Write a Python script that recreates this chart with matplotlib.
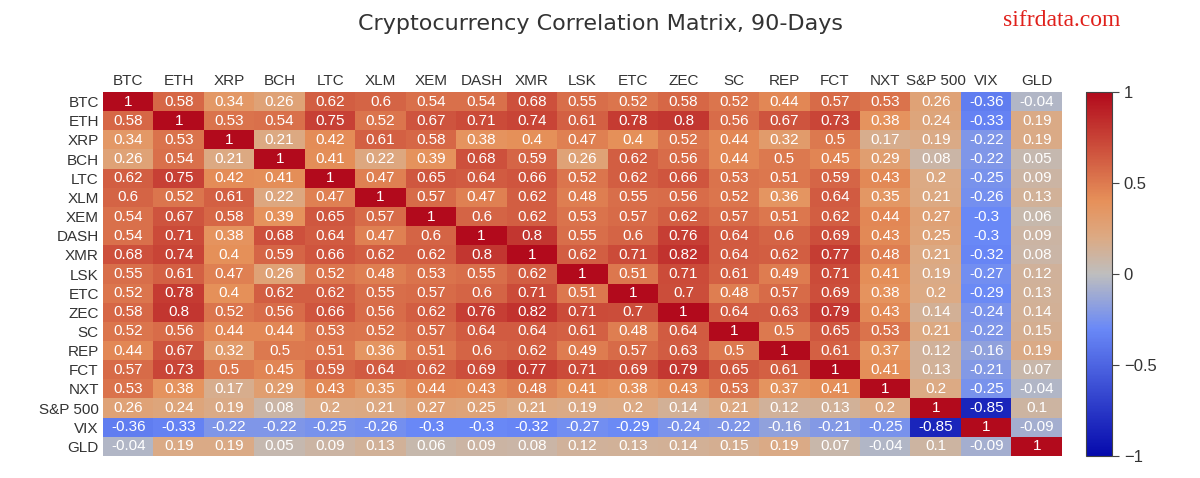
import numpy as np
import matplotlib
matplotlib.use('Agg')
import matplotlib.pyplot as plt
from matplotlib.colors import LinearSegmentedColormap

plt.rcParams['font.family'] = ['Liberation Sans', 'DejaVu Sans']

labels = ['BTC', 'ETH', 'XRP', 'BCH', 'LTC', 'XLM', 'XEM', 'DASH', 'XMR', 'LSK',
          'ETC', 'ZEC', 'SC', 'REP', 'FCT', 'NXT', 'S&P 500', 'VIX', 'GLD']

corr = np.array([
    [1, .58, .34, .26, .62, .6, .54, .54, .68, .55, .52, .58, .52, .44, .57, .53, .26, -.36, -.04],
    [.58, 1, .53, .54, .75, .52, .67, .71, .74, .61, .78, .8, .56, .67, .73, .38, .24, -.33, .19],
    [.34, .53, 1, .21, .42, .61, .58, .38, .4, .47, .4, .52, .44, .32, .5, .17, .19, -.22, .19],
    [.26, .54, .21, 1, .41, .22, .39, .68, .59, .26, .62, .56, .44, .5, .45, .29, .08, -.22, .05],
    [.62, .75, .42, .41, 1, .47, .65, .64, .66, .52, .62, .66, .53, .51, .59, .43, .2, -.25, .09],
    [.6, .52, .61, .22, .47, 1, .57, .47, .62, .48, .55, .56, .52, .36, .64, .35, .21, -.26, .13],
    [.54, .67, .58, .39, .65, .57, 1, .6, .62, .53, .57, .62, .57, .51, .62, .44, .27, -.3, .06],
    [.54, .71, .38, .68, .64, .47, .6, 1, .8, .55, .6, .76, .64, .6, .69, .43, .25, -.3, .09],
    [.68, .74, .4, .59, .66, .62, .62, .8, 1, .62, .71, .82, .64, .62, .77, .48, .21, -.32, .08],
    [.55, .61, .47, .26, .52, .48, .53, .55, .62, 1, .51, .71, .61, .49, .71, .41, .19, -.27, .12],
    [.52, .78, .4, .62, .62, .55, .57, .6, .71, .51, 1, .7, .48, .57, .69, .38, .2, -.29, .13],
    [.58, .8, .52, .56, .66, .56, .62, .76, .82, .71, .7, 1, .64, .63, .79, .43, .14, -.24, .14],
    [.52, .56, .44, .44, .53, .52, .57, .64, .64, .61, .48, .64, 1, .5, .65, .53, .21, -.22, .15],
    [.44, .67, .32, .5, .51, .36, .51, .6, .62, .49, .57, .63, .5, 1, .61, .37, .12, -.16, .19],
    [.57, .73, .5, .45, .59, .64, .62, .69, .77, .71, .69, .79, .65, .61, 1, .41, .13, -.21, .07],
    [.53, .38, .17, .29, .43, .35, .44, .43, .48, .41, .38, .43, .53, .37, .41, 1, .2, -.25, -.04],
    [.26, .24, .19, .08, .2, .21, .27, .25, .21, .19, .2, .14, .21, .12, .13, .2, 1, -.85, .1],
    [-.36, -.33, -.22, -.22, -.25, -.26, -.3, -.3, -.32, -.27, -.29, -.24, -.22, -.16, -.21, -.25, -.85, 1, -.09],
    [-.04, .19, .19, .05, .09, .13, .06, .09, .08, .12, .13, .14, .15, .19, .07, -.04, .1, -.09, 1],
])

# plotly "RdBu" colorscale
stops = [(0, (5, 10, 172)), (0.35, (106, 137, 247)), (0.5, (190, 190, 190)),
         (0.6, (220, 170, 132)), (0.7, (230, 145, 90)), (1, (178, 10, 28))]
cmap = LinearSegmentedColormap.from_list('plotly_rdbu', [(p, tuple(c / 255 for c in rgb)) for p, rgb in stops])

fig = plt.figure(figsize=(12, 4.78), dpi=100)
ax = fig.add_axes([103 / 1200, 1 - 456 / 478, 959 / 1200, 364 / 478])
im = ax.imshow(corr, cmap=cmap, vmin=-1, vmax=1, aspect='auto', interpolation='nearest')

for i in range(len(labels)):
    for j in range(len(labels)):
        v = corr[i, j]
        if v == 1:
            txt = '1'
        else:
            txt = ('-' if v < 0 else '') + f'{abs(v):.2f}'.rstrip('0').rstrip('.')
        ax.text(j, i, txt, ha='center', va='center', color='white', fontsize=11)

ax.set_xticks(range(len(labels)))
ax.set_xticklabels(labels, fontsize=11, color='#333333')
ax.set_yticks(range(len(labels)))
ax.set_yticklabels(labels, fontsize=11, color='#333333')
ax.xaxis.tick_top()
ax.tick_params(length=0, pad=3)
for s in ax.spines.values():
    s.set_visible(False)

cax = fig.add_axes([1086 / 1200, 1 - 456 / 478, 26 / 1200, 364 / 478])
cb = fig.colorbar(im, cax=cax, ticks=[-1, -0.5, 0, 0.5, 1])
cb.ax.set_yticklabels(['−1', '−0.5', '0', '0.5', '1'], fontsize=12, color='#333333')
cb.outline.set_edgecolor('#444444')
cb.ax.tick_params(length=5, color='#444444')

fig.text(0.5, 1 - 24 / 478, 'Cryptocurrency Correlation Matrix, 90-Days', ha='center', va='center',
         fontsize=16, color='#333333', family='DejaVu Sans')
fig.text(1062 / 1200, 1 - 20 / 478, 'sifrdata.com', ha='center', va='center',
         fontsize=17, color='#e0201b', family='Liberation Serif')

fig.savefig('out.png', dpi=100)
